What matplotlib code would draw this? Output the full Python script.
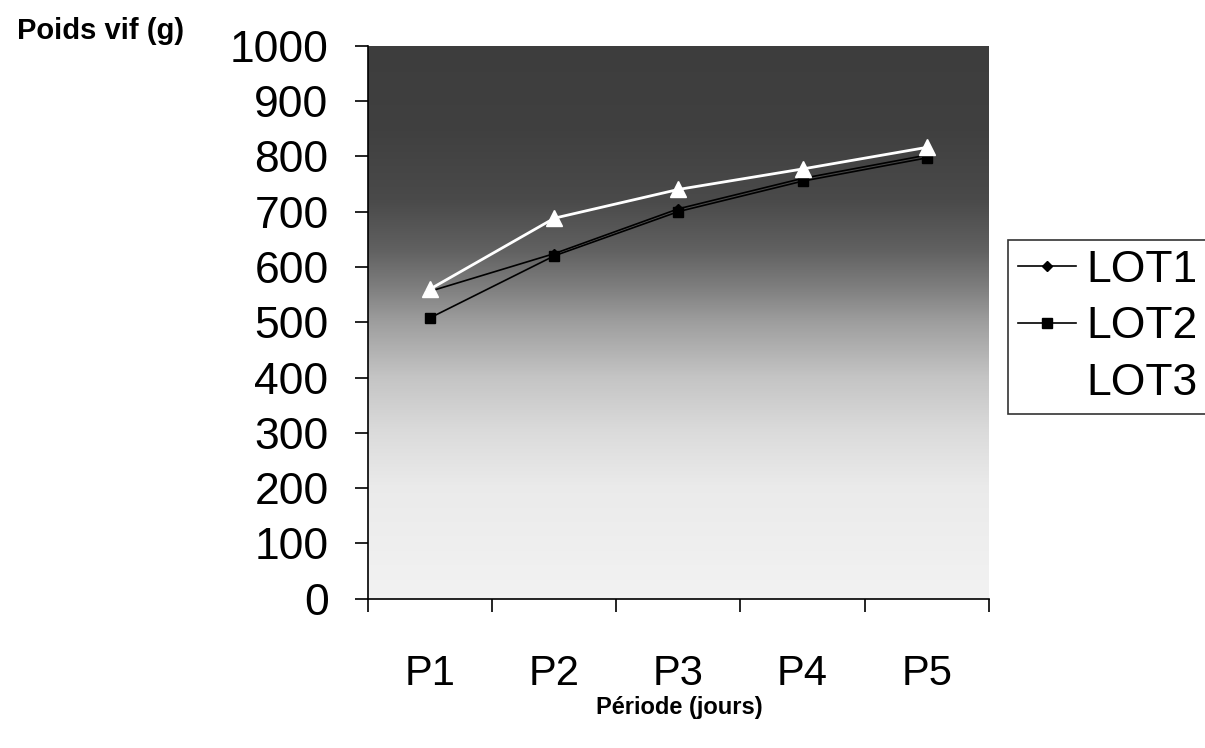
import numpy as np
import matplotlib
matplotlib.use("Agg")
import matplotlib.pyplot as plt
from matplotlib.colors import LinearSegmentedColormap

plt.rcParams['font.family'] = ['Liberation Sans', 'DejaVu Sans']

# Données
periodes = ['P1', 'P2', 'P3', 'P4', 'P5']
lot1 = [556, 624, 705, 760, 802]
lot2 = [508, 620, 700, 755, 797]
lot3 = [560, 688, 740, 777, 816]

fig = plt.figure(figsize=(12.05, 7.48), dpi=100)
ax = fig.add_axes([0.3055, 0.1995, 0.515, 0.7395])

# fond en dégradé (sombre en haut, clair en bas)
cmap = LinearSegmentedColormap.from_list('fond', [
    (0.0, (0.95, 0.95, 0.95)),
    (0.2, (0.92, 0.92, 0.92)),
    (0.3, (0.86, 0.86, 0.86)),
    (0.4, (0.77, 0.77, 0.77)),
    (0.5, (0.62, 0.62, 0.62)),
    (0.56, (0.50, 0.50, 0.50)),
    (0.63, (0.38, 0.38, 0.38)),
    (0.72, (0.29, 0.29, 0.29)),
    (0.85, (0.25, 0.25, 0.25)),
    (1.0, (0.24, 0.24, 0.24)),
])
grad = np.linspace(0, 1, 256).reshape(-1, 1)
ax.imshow(grad, cmap=cmap, aspect='auto', origin='lower',
          extent=[0, 1, 0, 1], transform=ax.transAxes, zorder=0)

x = np.arange(len(periodes))
ax.plot(x, lot1, color='black', lw=1.2, marker='D', ms=5, label='LOT1', zorder=3)
ax.plot(x, lot2, color='black', lw=1.2, marker='s', ms=7, label='LOT2', zorder=3)
ax.plot(x, lot3, color='white', lw=2, marker='^', ms=11,
        markerfacecolor='white', markeredgecolor='white', label='LOT3', zorder=4)

ax.set_xlim(-0.5, 4.5)
ax.set_ylim(0, 1000)
ax.set_yticks(range(0, 1001, 100))
ax.set_xticks(x)
ax.set_xticklabels(periodes)
ax.set_xticks(np.arange(-0.5, 5, 1), minor=True)
ax.tick_params(axis='x', which='major', length=0, labelsize=30, pad=40)
ax.tick_params(axis='x', which='minor', length=9.5, width=1.2, direction='out')
ax.tick_params(axis='y', labelsize=32, length=9.5, width=1.2, direction='out', pad=19)

for s in ['top', 'right']:
    ax.spines[s].set_visible(False)
ax.spines['left'].set_linewidth(1.2)
ax.spines['bottom'].set_linewidth(1.2)

fig.text(0.014, 0.948, 'Poids vif (g)', fontsize=21, fontweight='bold')
fig.text(0.564, 0.045, 'Période (jours)', fontsize=17, fontweight='bold', ha='center')

leg = fig.legend(loc='upper left', bbox_to_anchor=(0.8365, 0.679), fontsize=32,
                 frameon=True, fancybox=False, edgecolor='black', handlelength=1.3,
                 handletextpad=0.25, labelspacing=0.35, borderpad=0.22,
                 borderaxespad=0)
leg.get_frame().set_linewidth(1.2)

fig.savefig('out.png', dpi=100)
